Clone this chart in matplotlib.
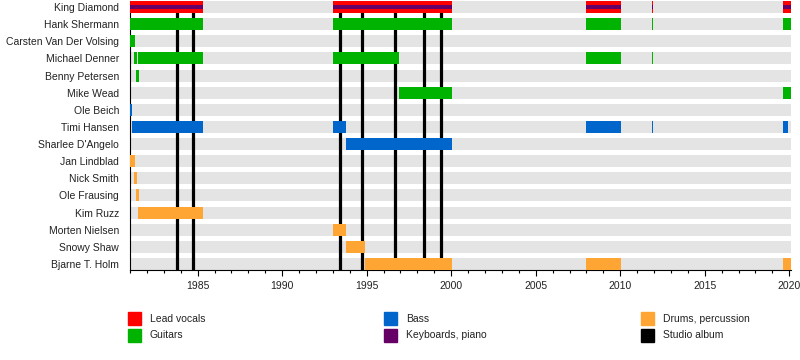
import matplotlib
matplotlib.use("Agg")
import matplotlib.pyplot as plt
from matplotlib.patches import Rectangle
from matplotlib.ticker import MultipleLocator

plt.rcParams["font.family"] = ["Liberation Sans", "DejaVu Sans"]

members = ["King Diamond", "Hank Shermann", "Carsten Van Der Volsing", "Michael Denner",
           "Benny Petersen", "Mike Wead", "Ole Beich", "Timi Hansen", "Sharlee D'Angelo",
           "Jan Lindblad", "Nick Smith", "Ole Frausing", "Kim Ruzz", "Morten Nielsen",
           "Snowy Shaw", "Bjarne T. Holm"]

# (member, start, end)
vocals = [("King Diamond", 1981.0, 1985.33), ("King Diamond", 1993.0, 2000.06),
          ("King Diamond", 2008.0, 2010.06), ("King Diamond", 2011.9, 2011.96),
          ("King Diamond", 2019.6, 2020.1)]
keyboards = vocals
guitars = [("Hank Shermann", 1981.0, 1985.33), ("Hank Shermann", 1993.0, 2000.06),
           ("Hank Shermann", 2008.0, 2010.06), ("Hank Shermann", 2011.9, 2011.96),
           ("Hank Shermann", 2019.6, 2020.1),
           ("Carsten Van Der Volsing", 1981.0, 1981.3),
           ("Michael Denner", 1981.24, 1981.4), ("Michael Denner", 1981.48, 1985.33),
           ("Michael Denner", 1993.0, 1996.9), ("Michael Denner", 2008.0, 2010.06),
           ("Michael Denner", 2011.9, 2011.96),
           ("Benny Petersen", 1981.36, 1981.54),
           ("Mike Wead", 1996.9, 2000.06), ("Mike Wead", 2019.6, 2020.1)]
bass = [("Ole Beich", 1981.0, 1981.1),
        ("Timi Hansen", 1981.1, 1985.33), ("Timi Hansen", 1993.0, 1993.77),
        ("Timi Hansen", 2008.0, 2010.06), ("Timi Hansen", 2011.9, 2011.96),
        ("Timi Hansen", 2019.6, 2019.9),
        ("Sharlee D'Angelo", 1993.8, 2000.06)]
drums = [("Jan Lindblad", 1981.0, 1981.3), ("Nick Smith", 1981.22, 1981.42),
         ("Ole Frausing", 1981.34, 1981.56), ("Kim Ruzz", 1981.48, 1985.33),
         ("Morten Nielsen", 1993.0, 1993.8), ("Snowy Shaw", 1993.8, 1994.9),
         ("Bjarne T. Holm", 1994.9, 2000.06), ("Bjarne T. Holm", 2008.0, 2010.06),
         ("Bjarne T. Holm", 2019.6, 2020.1)]

# Melissa, Don't Break the Oath, In the Shadows, Time, Into the Unknown, Dead Again, 9
studio_albums = [1983.8, 1984.7, 1993.45, 1994.75, 1996.65, 1998.4, 1999.4]

start_year, end_year = 1981.0, 2020.1

colors = {"Lead vocals": "#ff0000", "Guitars": "#00b300", "Bass": "#0066cc",
          "Keyboards, piano": "#660066", "Drums, percussion": "#ffa533",
          "Studio album": "#000000"}

fig = plt.figure(figsize=(8, 3.6), dpi=100)
ax = fig.add_axes([130 / 800, 90 / 360, 661 / 800, 269 / 360])

row = {m: i for i, m in enumerate(members)}
bar_h = 0.7

# grey background rows
ax.barh(range(len(members)), end_year - start_year, left=start_year, height=bar_h,
        color="#e4e4e4", zorder=1)

for x in studio_albums:
    ax.axvline(x, color="black", lw=2.3, zorder=2)

def draw(spans, color, h=bar_h, z=3):
    ys = [row[m] for m, s, e in spans]
    ax.barh(ys, [e - s for m, s, e in spans], left=[s for m, s, e in spans],
            height=h, color=color, zorder=z, linewidth=0)

draw(vocals, colors["Lead vocals"])
draw(keyboards, colors["Keyboards, piano"], h=0.24, z=4)
draw(guitars, colors["Guitars"])
draw(bass, colors["Bass"])
draw(drums, colors["Drums, percussion"])

ax.set_xlim(start_year, end_year)
ax.set_ylim(len(members) - 1 + bar_h / 2, -bar_h / 2)
ax.set_yticks(range(len(members)))
ax.set_yticklabels(members, fontsize=7.5, color="#222222")
ax.tick_params(axis="y", length=0, pad=8)
ax.set_xticks(range(1985, 2021, 5))
ax.xaxis.set_minor_locator(MultipleLocator(1))
ax.tick_params(axis="x", which="major", length=4, width=0.8, labelsize=7.5, pad=4,
               labelcolor="#222222")
ax.tick_params(axis="x", which="minor", length=2.5, width=0.8)
for s in ["top", "right"]:
    ax.spines[s].set_visible(False)
ax.spines["left"].set_linewidth(0.8)
ax.spines["bottom"].set_linewidth(0.8)

# legend
legend = [("Lead vocals", 128, 312), ("Guitars", 128, 329),
          ("Bass", 384, 312), ("Keyboards, piano", 384, 329),
          ("Drums, percussion", 641, 312), ("Studio album", 641, 329)]
for name, px, py in legend:
    fig.patches.append(Rectangle((px / 800, 1 - (py + 13) / 360), 13 / 800, 13 / 360,
                                 transform=fig.transFigure, color=colors[name]))
    fig.text((px + 22) / 800, 1 - (py + 6.5) / 360, name, fontsize=7.5, va="center",
             color="#222222")

fig.savefig("out.png", dpi=100)
